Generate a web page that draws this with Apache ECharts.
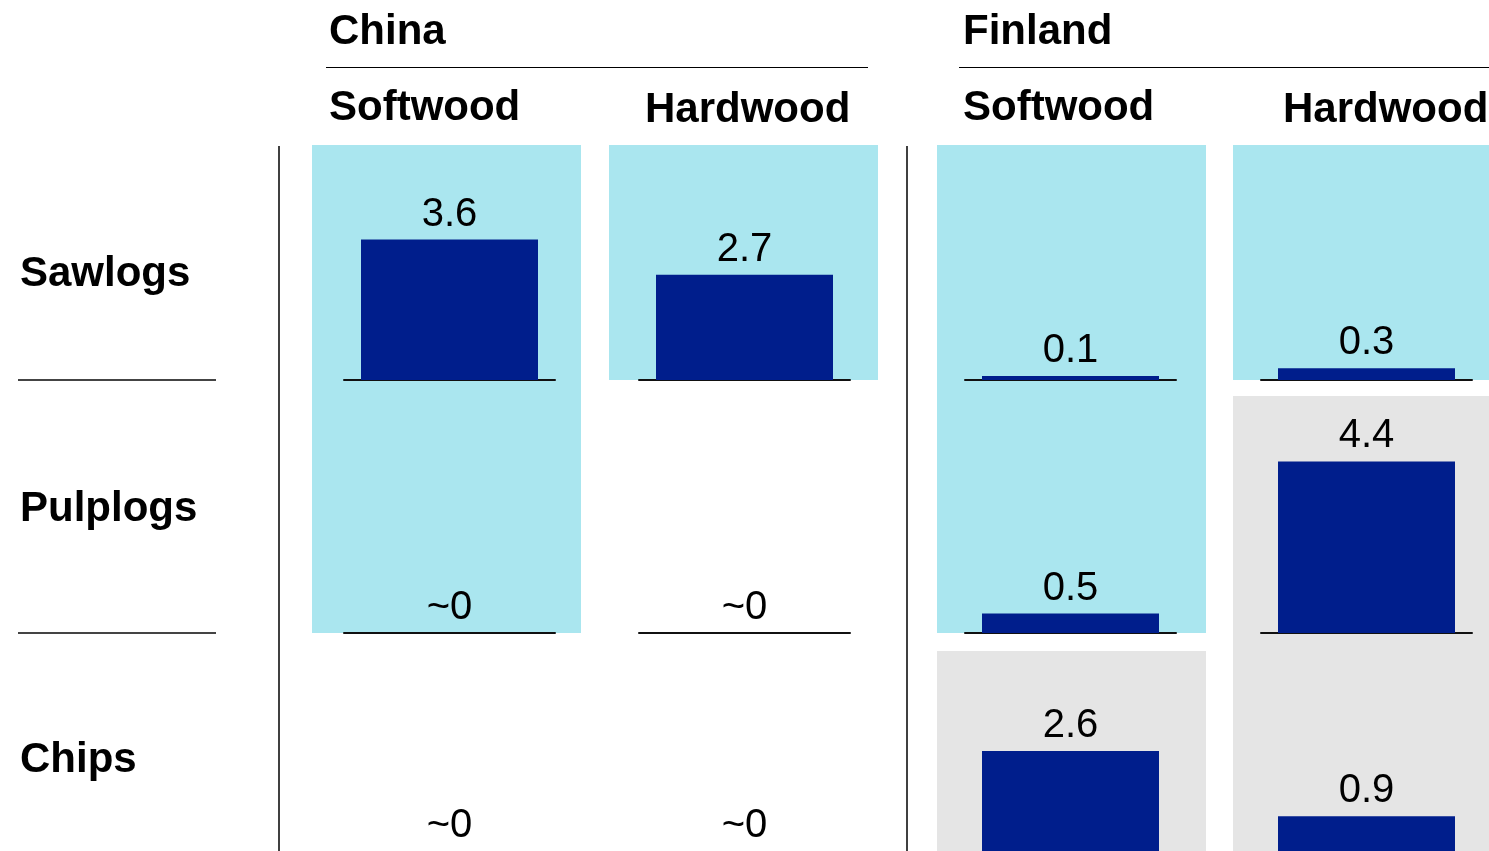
<!DOCTYPE html>
<html>
<head>
<meta charset="utf-8">
<title>Wood assortments: China and Finland</title>
<script src="https://cdn.jsdelivr.net/npm/echarts@6/dist/echarts.min.js"></script>
<style>
  html, body { margin: 0; padding: 0; background: #fff; }
  #chart { width: 1489px; height: 851px; }
</style>
</head>
<body>
<div id="chart"></div>
<script>
// Row and column categories
const assortments = ['Sawlogs', 'Pulplogs', 'Chips'];
const countries = ['China', 'Finland'];
const woodTypes = ['Softwood', 'Hardwood'];

// Values per column: China Softwood, China Hardwood, Finland Softwood, Finland Hardwood
const sawlogs  = [3.6, 2.7, 0.1, 0.3];
const pulplogs = [0,   0,   0.5, 4.4];
const chips    = [0,   0,   2.6, 0.9];

// Cell shading per column ('cyan', 'grey' or null for none)
const sawlogsShade  = ['cyan', 'cyan', 'cyan', 'cyan'];
const pulplogsShade = ['cyan', null,   'cyan', 'grey'];
const chipsShade    = [null,   null,   'grey', 'grey'];

const values = [sawlogs, pulplogs, chips];
const shades = [sawlogsShade, pulplogsShade, chipsShade];

// Layout (pixels)
const L = {
  plotLeft: [344, 639, 965, 1261],
  plotWidth: 211,
  bgLeft: [312, 609, 937, 1233],
  bgWidth: 269,
  baseline: [380, 633, 854],
  rowTop: [145, 396, 651],
  plotHeight: 234,
  yMax: 6,
  countryX: [329, 963],
  countryY: 32,
  countryRule: [[326, 868], [959, 1489]],
  countryRuleY: 67.5,
  typeX: [329, 645, 963, 1283],
  typeY: [108, 110, 108, 110],
  rowLabelX: 20,
  rowLabelY: [274, 509, 760],
  rowRule: [18, 216],
  dividerX: [279, 907],
  dividerY: [146, 851]
};

const COLORS = { cyan: '#aae6ef', grey: '#e5e5e5', bar: '#001e8c', text: '#000' };
const FONT = "'Liberation Sans', Arial, sans-serif";

const grids = [], xAxes = [], yAxes = [], series = [], graphics = [];

// Cell backgrounds: a shaded cell joins the one above when it has the same shade
shades.forEach((rowShade, r) => {
  rowShade.forEach((kind, c) => {
    if (!kind) return;
    const joined = r > 0 && shades[r - 1][c] === kind;
    const top = joined ? L.baseline[r - 1] : L.rowTop[r];
    graphics.push({
      type: 'rect', z: -10, silent: true,
      shape: { x: L.bgLeft[c], y: top, width: L.bgWidth, height: L.baseline[r] - top },
      style: { fill: COLORS[kind] }
    });
  });
});

// One grid per cell, all sharing the same vertical scale
values.forEach((rowVals, r) => {
  // the bottom row's baseline sits at the lower edge of the page, so it is not drawn
  const showBaseline = r < assortments.length - 1;
  rowVals.forEach((v, c) => {
    const idx = grids.length;
    grids.push({
      left: L.plotLeft[c], width: L.plotWidth,
      top: L.baseline[r] - L.plotHeight, height: L.plotHeight,
      containLabel: false
    });
    xAxes.push({
      gridIndex: idx, type: 'category', data: [assortments[r]],
      axisLine: { show: showBaseline, lineStyle: { color: '#111', width: 2 } },
      axisTick: { show: false }, axisLabel: { show: false }, splitLine: { show: false }
    });
    yAxes.push({
      gridIndex: idx, type: 'value', min: 0, max: L.yMax, show: false,
      splitLine: { show: false }
    });
    series.push({
      type: 'bar', xAxisIndex: idx, yAxisIndex: idx,
      data: [v], barWidth: 177,
      itemStyle: { color: COLORS.bar },
      label: {
        show: true, position: 'top', distance: 5,
        fontFamily: FONT, fontSize: 40, color: COLORS.text,
        formatter: p => (p.value === 0 ? '~0' : p.value.toFixed(1))
      },
      silent: true, animation: false
    });
  });
});

// Country headers and their rules
countries.forEach((name, i) => {
  graphics.push({
    type: 'text', x: L.countryX[i], y: L.countryY,
    style: { text: name, font: `bold 42px ${FONT}`, fill: COLORS.text, textAlign: 'left', textVerticalAlign: 'middle' }
  });
  graphics.push({
    type: 'line',
    shape: { x1: L.countryRule[i][0], y1: L.countryRuleY, x2: L.countryRule[i][1], y2: L.countryRuleY },
    style: { stroke: '#000', lineWidth: 1 }
  });
});

// Wood type headers
countries.forEach((_, i) => {
  woodTypes.forEach((t, j) => {
    const c = i * 2 + j;
    graphics.push({
      type: 'text', x: L.typeX[c], y: L.typeY[c],
      style: { text: t, font: `bold 42px ${FONT}`, fill: COLORS.text, textAlign: 'left', textVerticalAlign: 'middle' }
    });
  });
});

// Row labels and separators
assortments.forEach((name, r) => {
  graphics.push({
    type: 'text', x: L.rowLabelX, y: L.rowLabelY[r],
    style: { text: name, font: `bold 42px ${FONT}`, fill: COLORS.text, textAlign: 'left', textVerticalAlign: 'middle' }
  });
  if (r < assortments.length - 1) {
    graphics.push({
      type: 'line',
      shape: { x1: L.rowRule[0], y1: L.baseline[r], x2: L.rowRule[1], y2: L.baseline[r] },
      style: { stroke: '#444', lineWidth: 2 }
    });
  }
});

// Vertical dividers
L.dividerX.forEach(x => {
  graphics.push({
    type: 'line',
    shape: { x1: x, y1: L.dividerY[0], x2: x, y2: L.dividerY[1] },
    style: { stroke: '#000', lineWidth: 1.5 }
  });
});

const chart = echarts.init(document.getElementById('chart'), null, { renderer: 'canvas' });
chart.setOption({
  animation: false,
  backgroundColor: '#fff',
  grid: grids,
  xAxis: xAxes,
  yAxis: yAxes,
  series: series,
  graphic: graphics
});
</script>
</body>
</html>
